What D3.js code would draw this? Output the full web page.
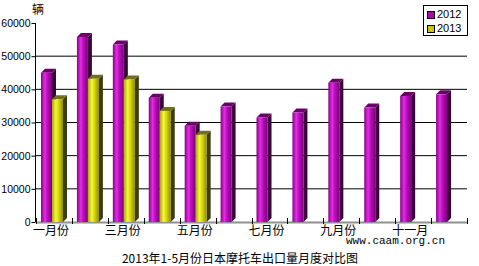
<!DOCTYPE html>
<html>
<head>
<meta charset="utf-8">
<script src="https://cdn.jsdelivr.net/npm/d3@7"></script>
<style>
body{margin:0;background:#fff;}
svg{display:block;}
</style>
</head>
<body>
<div id="chart"></div>
<script>
var months = ['一月份','二月份','三月份','四月份','五月份','六月份','七月份','八月份','九月份','十月份','十一月','十二月份'];
var shownLabels = ['一月份','三月份','五月份','七月份','九月份','十一月'];
var sales2012 = [45000,55800,53500,37500,29000,34800,31500,33000,42000,34500,38000,38500];
var sales2013 = [37000,43200,43000,33500,26300];
var yTicks = [0,10000,20000,30000,40000,50000,60000];
var seriesNames = ['2012','2013'];

var W = 479, H = 266,
	m = {t:23,r:12,b:44,l:36},
	w = W - m.l - m.r,
	h = H - m.t - m.b;

var svg = d3.select('#chart').append('svg')
	.attr('width',W).attr('height',H);

var defs = svg.append('defs');
function grad(id,stops){
	var g = defs.append('linearGradient').attr('id',id)
		.attr('x1','0%').attr('x2','100%').attr('y1','0%').attr('y2','0%');
	stops.forEach(function(s){
		g.append('stop').attr('offset',s[0]).attr('stop-color',s[1]);
	});
}
grad('g2012',[['0%','#8a008a'],['35%','#e030e0'],['55%','#c010c0'],['100%','#7a007a']]);
grad('g2013',[['0%','#a8a800'],['35%','#f4f44a'],['60%','#d8d800'],['100%','#8c8c00']]);

var colors = {
	'2012':{front:'url(#g2012)',side:'#3c003c',top:'#6a006a',key:'#b000b0'},
	'2013':{front:'url(#g2013)',side:'#3c3c14',top:'#707020',key:'#c8c800'}
};

var g = svg.append('g').attr('transform','translate('+m.l+','+m.t+')');

var x = d3.scaleBand().domain(months).range([0,w]);
var y = d3.scaleLinear().domain([0,60000]).range([h,0]);

//gridlines
g.selectAll('.grid').data(yTicks.filter(function(d){return d>0 && d<60000}))
	.enter().append('line')
	.attr('x1',0).attr('x2',w)
	.attr('y1',function(d){return y(d)}).attr('y2',function(d){return y(d)})
	.style('stroke','#000').style('stroke-width',1);

//floor line
g.append('line').attr('x1',0).attr('x2',w).attr('y1',h+0.5).attr('y2',h+0.5)
	.style('stroke','#909090').style('stroke-width',2);

//category ticks
g.selectAll('.ctick').data(d3.range(13)).enter().append('line')
	.attr('x1',function(d){return Math.round(d*x.bandwidth())+0.5})
	.attr('x2',function(d){return Math.round(d*x.bandwidth())+0.5})
	.attr('y1',h-4).attr('y2',h+2)
	.style('stroke','#000');

//y axis
var yAxis = g.append('g').attr('transform','translate(-0.5,0)')
	.call(d3.axisLeft(y).tickValues(yTicks).tickFormat(d3.format('d')).tickSize(4).tickPadding(1));
yAxis.select('.domain').attr('d','M0,0V'+h).style('stroke','#000');
yAxis.selectAll('text').style('font-family','"Liberation Sans",Arial,sans-serif')
	.style('font-size','10.5px').style('fill','#000');

//bars
var barW = 11, depth = 4, off = 5;
function drawSeries(name,values,idx){
	var c = colors[name];
	var bars = g.selectAll('.bar'+name).data(values).enter().append('g');
	var bx = function(d,i){return x(months[i])+off+idx*barW};
	bars.append('polygon').attr('points',function(d,i){
		var x0 = bx(d,i)+barW, y0 = y(d);
		return [[x0,y0],[x0+depth,y0-depth],[x0+depth,h-depth],[x0,h]].join(' ');
	}).style('fill',c.side);
	bars.append('polygon').attr('points',function(d,i){
		var x0 = bx(d,i), y0 = y(d);
		return [[x0,y0],[x0+depth,y0-depth],[x0+barW+depth,y0-depth],[x0+barW,y0]].join(' ');
	}).style('fill',c.top);
	bars.append('rect')
		.attr('x',bx).attr('y',function(d){return y(d)})
		.attr('width',barW).attr('height',function(d){return h-y(d)})
		.style('fill',c.front);
}
drawSeries('2012',sales2012,0);
drawSeries('2013',sales2013,1);

//x labels
g.selectAll('.xl').data(shownLabels).enter().append('text')
	.attr('x',function(d){return x(months[months.indexOf(d)])+off+barW-1})
	.attr('y',h+13)
	.attr('text-anchor','middle')
	.style('font-family','"Noto Sans CJK SC",sans-serif')
	.style('font-size','12px')
	.text(function(d){return d});

//unit
svg.append('text').attr('x',32).attr('y',14)
	.style('font-family','"Noto Sans CJK SC",sans-serif').style('font-size','12px')
	.text('辆');

//legend
var lg = svg.append('g').attr('transform','translate(423,5)');
lg.append('rect').attr('x',0.5).attr('y',0.5).attr('width',44).attr('height',30)
	.style('fill','#fff').style('stroke','#000');
seriesNames.forEach(function(s,i){
	lg.append('rect').attr('x',4.5).attr('y',6.5+i*14).attr('width',7).attr('height',7)
		.style('fill',colors[s].key).style('stroke','#000');
	lg.append('text').attr('x',14).attr('y',13+i*14)
		.style('font-family','"Liberation Sans",Arial,sans-serif').style('font-size','11px')
		.text(s);
});

//watermark
svg.append('text').attr('x',346).attr('y',244)
	.style('font-family','"Liberation Mono","DejaVu Sans Mono",monospace').style('font-size','11px')
	.text('www.caam.org.cn');

//title
svg.append('text').attr('x',240).attr('y',263).attr('text-anchor','middle')
	.style('font-family','"Noto Sans CJK SC",sans-serif').style('font-size','12px')
	.text('2013年1-5月份日本摩托车出口量月度对比图');
</script>
</body>
</html>
